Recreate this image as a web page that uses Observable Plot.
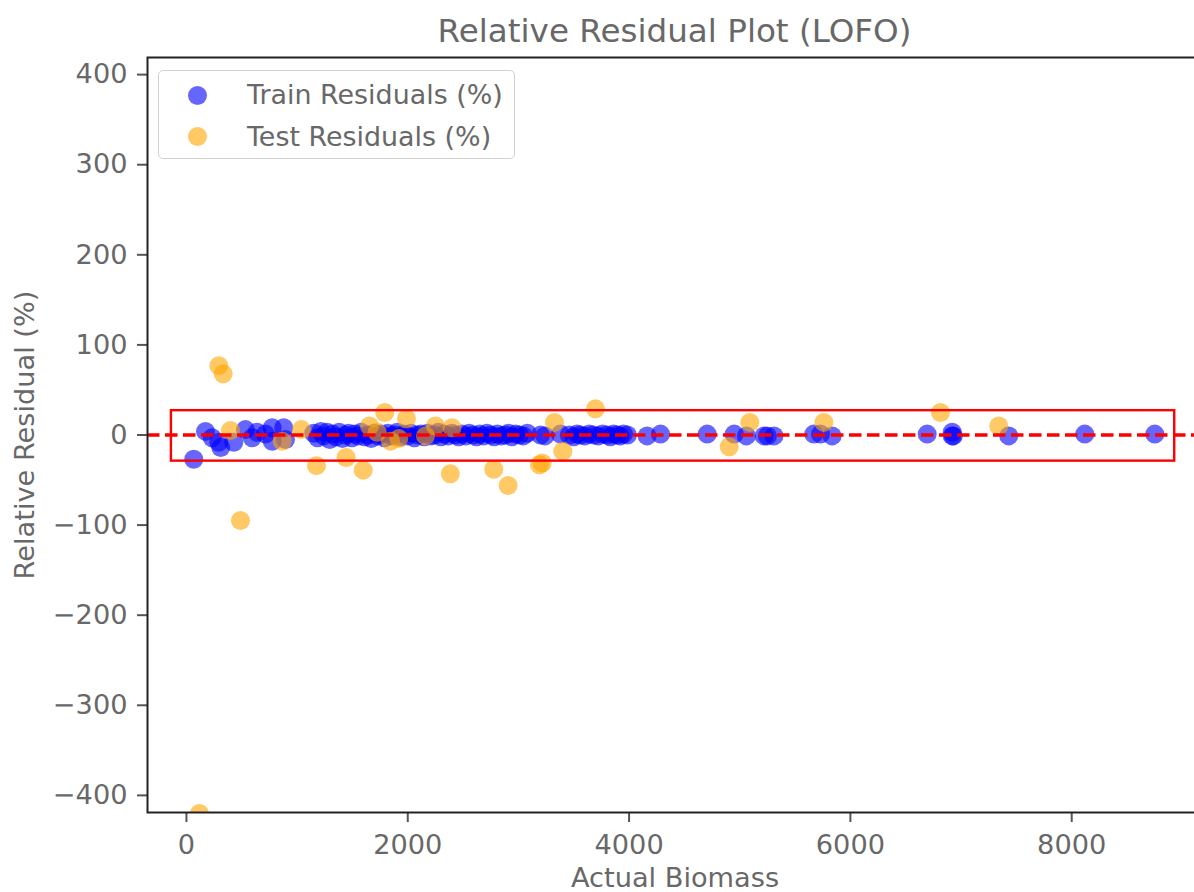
<!DOCTYPE html>
<html>
<head>
<meta charset="utf-8">
<script src="https://cdn.jsdelivr.net/npm/d3@7"></script>
<script src="https://cdn.jsdelivr.net/npm/@observablehq/plot@0.6"></script>
<style>
html,body{margin:0;padding:0;overflow:hidden;background:#fff;width:1194px;height:892px;}
#wrap{position:relative;width:1194px;height:892px;overflow:hidden;font-family:"DejaVu Sans",sans-serif;}
#title{position:absolute;left:147px;width:1055px;top:0;height:62px;line-height:62px;text-align:center;font-size:32.6px;color:#686868;white-space:nowrap;}
#chart{position:absolute;left:0;top:55px;width:1210px;}
#chart svg{max-width:none !important;}
#legend{position:absolute;left:158px;top:70px;width:355px;height:87px;border:1.5px solid #d2d2d2;border-radius:5px;background:rgba(255,255,255,0.8);}
.mk{position:absolute;width:19px;height:19px;border-radius:50%;}
.lt{position:absolute;left:247px;font-size:26.9px;line-height:30px;color:#686868;white-space:nowrap;}
</style>
</head>
<body>
<div id="wrap">
  <div id="chart"></div>
  <div id="title">Relative Residual Plot (LOFO)</div>
  <div id="legend"></div>
  <div class="mk" style="left:188px;top:86px;background:rgba(0,0,255,0.6)"></div>
  <div class="lt" style="top:80px">Train Residuals (%)</div>
  <div class="mk" style="left:188px;top:127px;background:rgba(255,165,0,0.6)"></div>
  <div class="lt" style="top:122px">Test Residuals (%)</div>
</div>
<script>
// ---- data ----
const trainX = [66,172,232,292,310,428,533,594,639,714,775,775,879,895,
  1150,1185,1215,1240,1270,1295,1320,1350,1380,1410,1440,1465,1495,1520,1550,1580,1610,1640,1670,1700,
  1730,1760,1790,1820,1850,1880,1905,1935,1965,2000,2030,2060,2090,2120,2150,2180,2210,2245,2275,2300,
  2330,2365,2400,2430,2460,2490,2525,2555,2590,2620,2650,2685,2715,2750,2780,2810,2845,2880,2910,2940,
  2975,3010,3045,3080,3200,3240,3380,3460,3500,3530,3560,3600,3640,3680,3720,3760,3800,3830,3860,3890,
  3920,3950,3985,
  4163,4284,4706,4950,5060,5220,5250,5310,5669,5730,5835,6694,6920,6920,6930,7431,8118,8751];
const trainY = [-27,4,-3,-8,-14,-8,6,-3,3,1,8,-7,8,-5,
  2,-3,4,-1,3,-5,1,-2,3,-4,0,2,-3,1,-1,3,-2,0,-4,2,
  -1,1,-3,2,-1,0,3,-2,1,-1,2,-3,0,1,-2,2,-1,0,3,-2,
  1,-1,2,0,-2,1,-1,2,0,-2,1,-1,2,0,-2,1,-1,0,2,-2,
  1,0,-1,2,0,-1,1,0,-2,1,0,-1,1,0,-1,1,0,-2,1,0,
  -1,1,0,
  -1,1,1,1,-1,-1,-1,-1,1,1,-1,1,3,-1,-1,-1,1,1];
const testX = [117,292,332,398,488,865,1039,1175,1443,1597,1654,1723,1792,1844,1919,1988,2160,2250,2400,2385,
  2777,2907,3190,3215,3326,3401,3696,4905,5091,5760,6814,7341];
const testY = [-420,77,68,5,-95,-7,6,-34,-25,-39,10,3,25,-7,-4,18,-1,10,8,-43,
  -38,-56,-33,-31,14,-18,29,-13,14,14,25,10];
const xTicks = [0,2000,4000,6000,8000];
const yTicks = [-400,-300,-200,-100,0,100,200,300,400];
const zeroLine = [0];
const boxX1 = [-136], boxX2 = [8931], boxY1 = [-29], boxY2 = [27];

const train = trainX.map((x,i)=>({x, y: trainY[i]}));
const test = testX.map((x,i)=>({x, y: testY[i]}));
const box = boxX1.map((x1,i)=>({x1, x2: boxX2[i], y1: boxY1[i], y2: boxY2[i]}));
const fmtY = d => d < 0 ? "\u2212" + Math.abs(d) : String(d);
const textColor = "#686868";
const fs = 27.2;

const chart = Plot.plot({
  width: 1210, height: 837,
  marginLeft: 147, marginRight: 8, marginTop: 2, marginBottom: 80,
  x: {domain: [-352, 9182]},
  y: {domain: [-419, 419]},
  style: {fontFamily: "DejaVu Sans, sans-serif", fontSize: fs + "px", color: textColor, background: "transparent", maxWidth: "none"},
  marks: [
    Plot.dot(train, {x: "x", y: "y", r: 9.5, fill: "blue", fillOpacity: 0.6, stroke: "none", clip: true}),
    Plot.dot(test, {x: "x", y: "y", r: 9.5, fill: "orange", fillOpacity: 0.6, stroke: "none", clip: true}),
    Plot.ruleY(zeroLine, {stroke: "red", strokeWidth: 3.3, strokeDasharray: "12.5,5.5"}),
    Plot.rect(box, {x1: "x1", x2: "x2", y1: "y1", y2: "y2", fill: "none", stroke: "red", strokeWidth: 2.4}),
    Plot.axisX({ticks: xTicks, tickFormat: d => String(d), tickSize: 10, tickPadding: 12, stroke: "#555", strokeWidth: 2, fill: textColor, fontSize: fs, label: null}),
    Plot.axisY({ticks: yTicks, tickFormat: fmtY, tickSize: 10, tickPadding: 10, stroke: "#555", strokeWidth: 2, fill: textColor, fontSize: fs, label: null}),
    Plot.frame({stroke: "#222", strokeWidth: 2}),
    Plot.text(["Actual Biomass"], {frameAnchor: "bottom", dy: 66, lineAnchor: "middle", textAnchor: "middle", fill: textColor, fontSize: fs}),
    Plot.text(["Relative Residual (%)"], {frameAnchor: "left", dx: -122, rotate: -90, lineAnchor: "middle", textAnchor: "middle", fill: textColor, fontSize: fs})
  ]
});
document.getElementById("chart").appendChild(chart);
</script>
</body>
</html>
